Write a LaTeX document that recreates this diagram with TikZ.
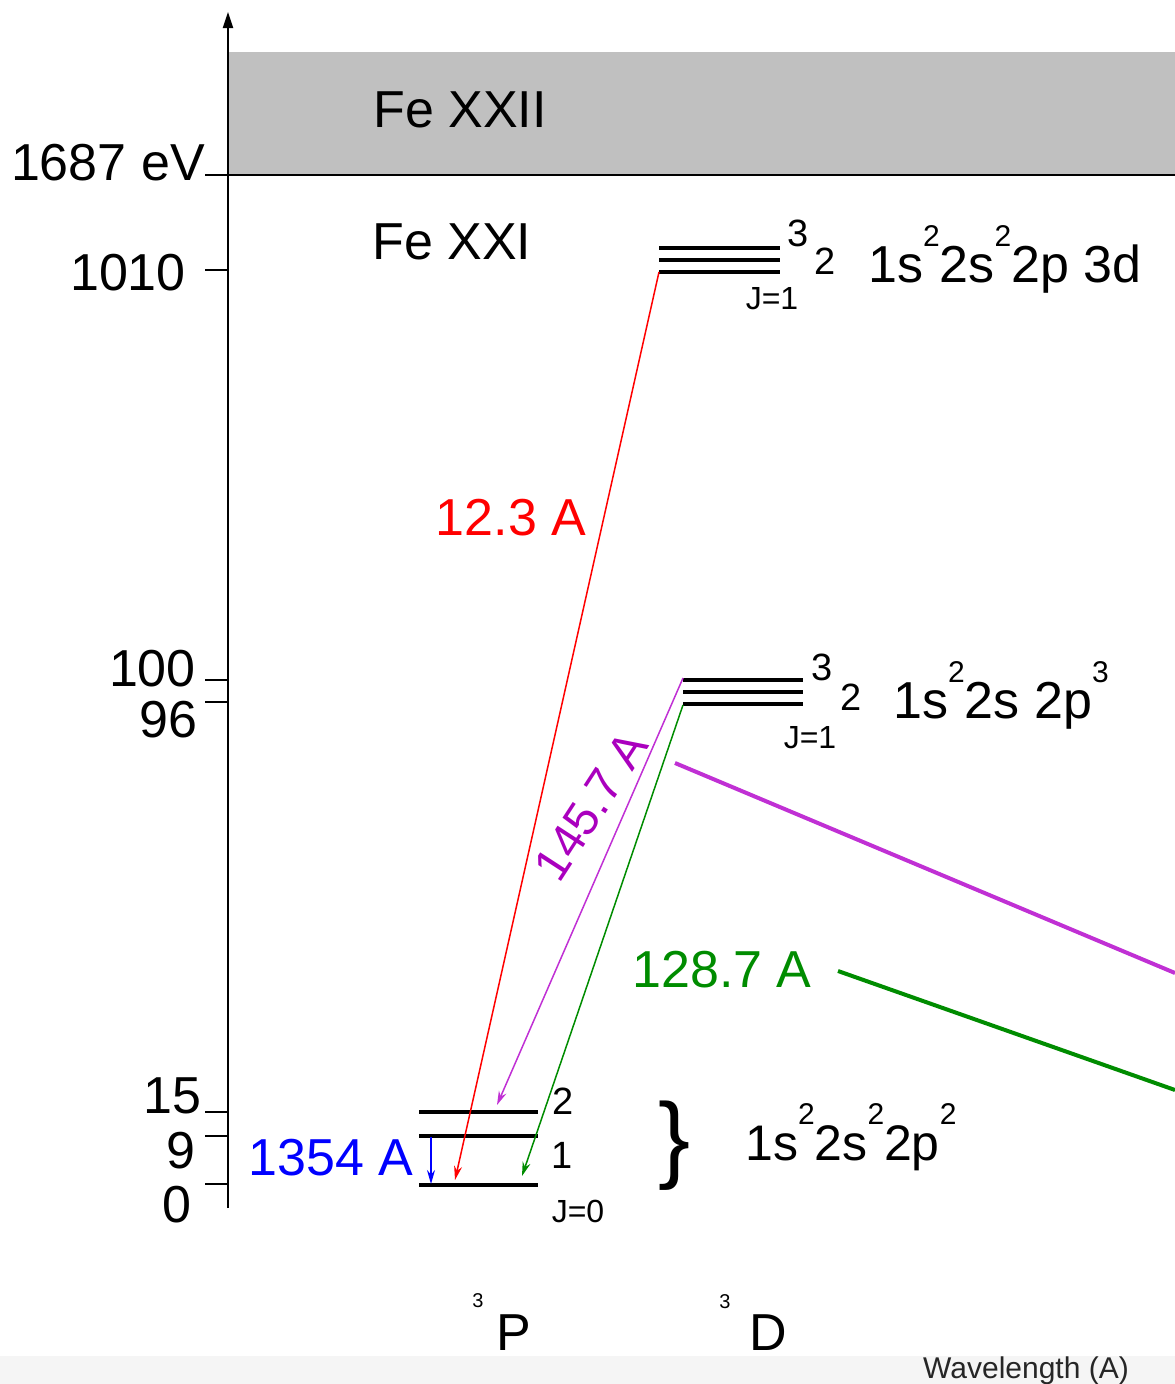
\documentclass[tikz,border=0pt]{standalone}
\usepackage{fontspec}
\setmainfont{Liberation Sans}
\usetikzlibrary{arrows.meta}
\definecolor{band}{RGB}{192,192,192}
\definecolor{magline}{RGB}{192,48,212}
\definecolor{magtext}{RGB}{170,0,190}
\definecolor{grnline}{RGB}{0,140,0}
\definecolor{grntext}{RGB}{0,140,0}
\definecolor{redline}{RGB}{255,0,0}
\definecolor{blueline}{RGB}{0,0,255}
\newcommand\upper[1]{\raisebox{36pt}{\fontsize{30}{30}\selectfont #1}}
\tikzset{
  big/.style={font=\fontsize{52}{60}\selectfont, inner sep=0pt},
  cfg/.style={font=\fontsize{52}{60}\selectfont, inner sep=0pt, anchor=base west},
  mid/.style={font=\fontsize{38}{40}\selectfont, inner sep=0pt},
  jlab/.style={font=\fontsize{32}{34}\selectfont, inner sep=0pt},
  tiny/.style={font=\fontsize{20}{22}\selectfont, inner sep=0pt},
  ticklab/.style={font=\fontsize{52}{60}\selectfont, inner sep=0pt, anchor=base east},
  level/.style={line width=4pt},
  tickline/.style={line width=1.5pt},
  trans/.style={line width=1.5pt, -{Stealth[length=14pt,width=8pt]}},
  bigline/.style={line width=4pt},
}
\begin{document}
\begin{tikzpicture}[x=1pt,y=-1pt]
\useasboundingbox (0,0) rectangle (1175,1384);
\fill[black!4] (0,1356) rectangle (1175,1384);
% ionisation band
\fill[band] (228,52) rectangle (1175,175);
\draw[line width=1.5pt] (205,175) -- (1175,175);
% axis
\coordinate (axbot) at (228,1208);
\coordinate (axtop) at (228,12);
\draw[line width=2pt,-{Triangle[length=16pt,width=10pt]}] (axbot) -- (axtop);
\node[big] (fe22) at (460,110) {Fe XXII};
\node[big] (fe21) at (452,242) {Fe XXI};
% ticks
\node[ticklab] (t1687) at (205,180) {1687 eV};
\draw[tickline] (205,270) -- (228,270);
\node[ticklab] (t1010) at (186,290) {1010};
\draw[tickline] (205,680) -- (228,680);
\node[ticklab] (t100) at (196,686) {100};
\draw[tickline] (205,702) -- (228,702);
\node[ticklab] (t96) at (198,737) {96};
\draw[tickline] (205,1112) -- (228,1112);
\node[ticklab] (t15) at (202,1113) {15};
\draw[tickline] (205,1136) -- (228,1136);
\node[ticklab] (t9) at (196,1168) {9};
\draw[tickline] (205,1184) -- (228,1184);
\node[ticklab] (t0) at (192,1222) {0};
% upper 3D levels (3d)
\draw[level] (659,248) -- (780,248);
\draw[level] (659,260) -- (780,260);
\draw[level] (659,272) -- (780,272);
\coordinate (dtopj1) at (659,272);
\node[mid] (u3) at (798,233) {3};
\node[mid] (u2) at (825,261) {2};
\node[jlab] (uj) at (772,299) {J=1};
\node[cfg] (ucfg) at (868,282) {1s\upper{2}2s\upper{2}2p 3d};
% middle 3D levels (2p3)
\draw[level] (683,680) -- (803,680);
\draw[level] (683,692) -- (803,692);
\draw[level] (683,704) -- (803,704);
\coordinate (mj2) at (683,678);
\coordinate (mj1) at (683,705);
\node[mid] (m3) at (822,667) {3};
\node[mid] (m2) at (851,697) {2};
\node[jlab] (mj) at (810,738) {J=1};
\node[cfg] (mcfg) at (893,718) {1s\upper{2}2s 2p\upper{3}};
% lower 3P levels
\draw[level] (419,1112) -- (538,1112);
\draw[level] (419,1136) -- (538,1136);
\draw[level] (419,1185) -- (538,1185);
\node[mid] (l2) at (563,1101) {2};
\node[mid] (l1) at (562,1155) {1};
\node[jlab] (lj) at (578,1211) {J=0};
\node[font=\fontsize{96}{98}\selectfont, inner sep=0pt] (brace) at (675,1146) {\}};
\node[font=\fontsize{50}{60}\selectfont, inner sep=0pt, anchor=base west] (lcfg) at (745,1160) {1s\upper{2}2s\upper{2}2p\upper{2}};
% transition endpoints
\coordinate (p0red) at (455,1180);
\coordinate (p2mag) at (497,1105);
\coordinate (p0grn) at (522,1176);
\coordinate (p1blue) at (431,1137);
\coordinate (p0blue) at (431,1184);
% transitions
\draw[trans, redline] (dtopj1) -- (p0red);
\node[big, text=redline] (lred) at (511,518) {12.3 A};
\draw[trans, magline] (mj2) -- (p2mag);
\node[font=\fontsize{48}{50}\selectfont, inner sep=0pt, text=magtext, rotate=57] (lmag) at (591,806) {145.7 A};
\draw[trans, grnline] (mj1) -- (p0grn);
\node[big, text=grntext] (lgrn) at (722,970) {128.7 A};
\draw[trans, blueline] (p1blue) -- (p0blue);
\node[big, text=blueline] (lblue) at (331,1158) {1354 A};
% long leader lines
\coordinate (magA) at (675,763);
\coordinate (magB) at (1175,973);
\draw[bigline, magline] (magA) -- (magB);
\coordinate (grnA) at (838,971);
\coordinate (grnB) at (1175,1090);
\draw[bigline, grnline] (grnA) -- (grnB);
% term labels
\node[big, anchor=base west] (termP) at (496,1350) {P};
\node[tiny] (termP3) at (478,1301) {3};
\node[big, anchor=base west] (termD) at (749,1350) {D};
\node[tiny] (termD3) at (725,1302) {3};
\node[font=\fontsize{30}{32}\selectfont, inner sep=0pt, anchor=base west, text=black!85] (wl) at (923,1378) {Wavelength (A)};
\end{tikzpicture}
\end{document}
